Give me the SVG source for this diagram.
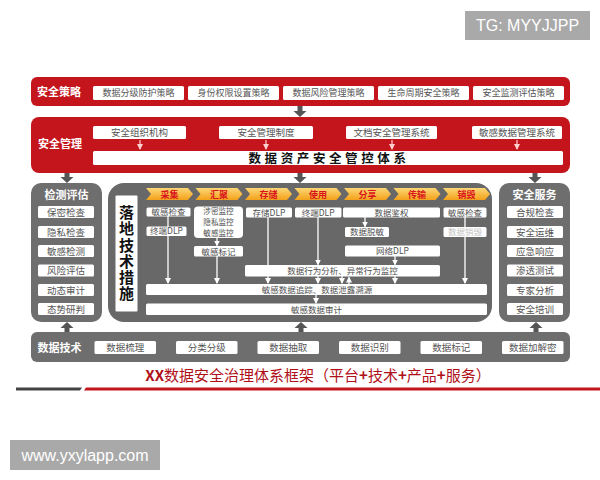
<svg xmlns="http://www.w3.org/2000/svg" width="600" height="480" viewBox="0 0 600 480">
<defs>
<style>
text{font-family:"Noto Sans CJK SC","Liberation Sans",sans-serif;}
.red{fill:#c5151c;}
.gray{fill:#6e6e6e;}
.wb{fill:#ffffff;}
.lbl{fill:#ffffff;font-weight:bold;font-size:11px;}
.t9{fill:#555555;font-size:9px;text-anchor:middle;}
.t10{fill:#555555;font-size:9.5px;text-anchor:middle;}
.t85{fill:#505050;font-size:8.5px;text-anchor:middle;}
.stage{fill:#d9141c;font-size:9px;font-weight:bold;text-anchor:middle;}
.wl{stroke:#ffffff;stroke-width:1.3;fill:none;}
.wla{stroke:#ffffff;stroke-width:1.3;fill:none;marker-end:url(#wa);}
.ba{fill:#555555;}
.pa{stroke:#ffd0d0;stroke-width:1.2;fill:none;marker-end:url(#pa);}
</style>
<marker id="wa" markerWidth="6" markerHeight="6" refX="5" refY="3" orient="auto" markerUnits="userSpaceOnUse"><path d="M0,0 L6,3 L0,6 Z" fill="#ffffff"/></marker>
<marker id="pa" markerWidth="6" markerHeight="6" refX="5" refY="3" orient="auto" markerUnits="userSpaceOnUse"><path d="M0,0 L6,3 L0,6 Z" fill="#ffd0d0"/></marker>
<linearGradient id="og" x1="0" y1="0" x2="0" y2="1"><stop offset="0" stop-color="#fcd777"/><stop offset="1" stop-color="#f4a119"/></linearGradient>
</defs>
<rect width="600" height="480" fill="#ffffff"/>

<!-- watermarks -->
<g id="wm-top"><rect x="465" y="11" width="125" height="29" fill="#a9a9a9"/><text x="527.5" y="31" style="fill:#fff;font-family:'Liberation Sans',sans-serif;font-size:16px;text-anchor:middle">TG: MYYJJPP</text></g>
<g id="wm-bottom"><rect x="10" y="440" width="150" height="30" fill="#a9a9a9"/><text x="85" y="461" style="fill:#fff;font-family:'Liberation Sans',sans-serif;font-size:16px;text-anchor:middle">www.yxylapp.com</text></g>

<!-- connectors -->
<g id="connectors">
<path class="ba" d="M297.5,106 h5 v5 h4 l-6.5,6 l-6.5,-6 h4 z"/>
<path class="ba" d="M64.5,173 h5 v4 h4 l-6.5,6 l-6.5,-6 h4 z"/>
<path class="ba" d="M297.5,173 h5 v4 h4 l-6.5,6 l-6.5,-6 h4 z"/>
<path class="ba" d="M532.5,173 h5 v4 h4 l-6.5,6 l-6.5,-6 h4 z"/>
<path class="ba" d="M64.5,332 h5 v-4 h4 l-6.5,-6 l-6.5,6 h4 z"/>
<path class="ba" d="M298.5,332 h5 v-4 h4 l-6.5,-6 l-6.5,6 h4 z"/>
<path class="ba" d="M533.5,332 h5 v-4 h4 l-6.5,-6 l-6.5,6 h4 z"/>
</g>

<!-- 安全策略 -->
<g id="policy">
<rect class="red" x="31" y="77" width="539" height="29" rx="6"/>
<text class="lbl" x="59" y="96" text-anchor="middle">安全策略</text>
<rect class="wb" x="93" y="86" width="91" height="14" rx="1.5"/><text class="t9" x="138.5" y="96.3">数据分级防护策略</text>
<rect class="wb" x="188" y="86" width="91" height="14" rx="1.5"/><text class="t9" x="233.5" y="96.3">身份权限设置策略</text>
<rect class="wb" x="283" y="86" width="91" height="14" rx="1.5"/><text class="t9" x="328.5" y="96.3">数据风险管理策略</text>
<rect class="wb" x="378" y="86" width="91" height="14" rx="1.5"/><text class="t9" x="423.5" y="96.3">生命周期安全策略</text>
<rect class="wb" x="473" y="86" width="91" height="14" rx="1.5"/><text class="t9" x="518.5" y="96.3">安全监测评估策略</text>
</g>

<!-- 安全管理 -->
<g id="management">
<rect class="red" x="31" y="117" width="539" height="56" rx="8"/>
<text class="lbl" x="60" y="148" text-anchor="middle">安全管理</text>
<rect class="wb" x="93" y="126" width="93" height="13" rx="1.5"/><text class="t10" x="139.5" y="136">安全组织机构</text>
<rect class="wb" x="219" y="126" width="94" height="13" rx="1.5"/><text class="t10" x="266" y="136">安全管理制度</text>
<rect class="wb" x="346" y="126" width="91" height="13" rx="1.5"/><text class="t10" x="391.5" y="136">文档安全管理系统</text>
<rect class="wb" x="472" y="126" width="90" height="13" rx="1.5"/><text class="t10" x="517" y="136">敏感数据管理系统</text>
<path class="pa" d="M140,140 V149"/>
<path class="pa" d="M266,140 V149"/>
<path class="pa" d="M392,140 V149"/>
<path class="pa" d="M517,140 V149"/>
<rect class="wb" x="93" y="151" width="470" height="14" rx="1.5"/>
<text x="329" y="162.5" style="fill:#111;font-size:12.5px;font-weight:bold;text-anchor:middle;letter-spacing:3.6px">数据资产安全管控体系</text>
</g>

<!-- 检测评估 -->
<g id="detect">
<rect class="gray" x="31" y="183" width="71" height="139" rx="10"/>
<text class="lbl" x="66.5" y="199" text-anchor="middle">检测评估</text>
<rect class="wb" x="38" y="206" width="56" height="12" rx="1.5"/><text class="t10" x="66" y="215.5">保密检查</text>
<rect class="wb" x="38" y="226" width="56" height="12" rx="1.5"/><text class="t10" x="66" y="235.5">隐私检查</text>
<rect class="wb" x="38" y="245" width="56" height="12" rx="1.5"/><text class="t10" x="66" y="254.5">敏感检测</text>
<rect class="wb" x="38" y="264.5" width="56" height="12" rx="1.5"/><text class="t10" x="66" y="274">风险评估</text>
<rect class="wb" x="38" y="284" width="56" height="12" rx="1.5"/><text class="t10" x="66" y="293.5">动态审计</text>
<rect class="wb" x="38" y="303" width="56" height="12" rx="1.5"/><text class="t10" x="66" y="312.5">态势研判</text>
</g>

<!-- 安全服务 -->
<g id="service">
<rect class="gray" x="499" y="183" width="71" height="139" rx="10"/>
<text class="lbl" x="534.5" y="199" text-anchor="middle">安全服务</text>
<rect class="wb" x="507" y="206" width="56" height="12" rx="1.5"/><text class="t10" x="535" y="215.5">合规检查</text>
<rect class="wb" x="507" y="226" width="56" height="12" rx="1.5"/><text class="t10" x="535" y="235.5">安全运维</text>
<rect class="wb" x="507" y="245" width="56" height="12" rx="1.5"/><text class="t10" x="535" y="254.5">应急响应</text>
<rect class="wb" x="507" y="264.5" width="56" height="12" rx="1.5"/><text class="t10" x="535" y="274">渗透测试</text>
<rect class="wb" x="507" y="284" width="56" height="12" rx="1.5"/><text class="t10" x="535" y="293.5">专家分析</text>
<rect class="wb" x="507" y="303" width="56" height="12" rx="1.5"/><text class="t10" x="535" y="312.5">安全培训</text>
</g>

<!-- 落地技术措施 -->
<g id="tech">
<rect x="108" y="183" width="384" height="139" rx="16" fill="#686868"/>
<rect class="wb" x="115.5" y="195.5" width="22" height="116" rx="1"/>
<text x="126.5" y="205" writing-mode="tb" style="fill:#111;font-size:15px;font-weight:bold;letter-spacing:1.2px">落地技术措施</text>
<!-- stages -->
<g id="stages">
<path fill="url(#og)" d="M146,188 h42 l5,6 l-5,6 h-42 l5,-6 z"/><text class="stage" x="169.5" y="197.5">采集</text>
<path fill="url(#og)" d="M195.5,188 h42 l5,6 l-5,6 h-42 l5,-6 z"/><text class="stage" x="219" y="197.5">汇聚</text>
<path fill="url(#og)" d="M245,188 h42 l5,6 l-5,6 h-42 l5,-6 z"/><text class="stage" x="268.5" y="197.5">存储</text>
<path fill="url(#og)" d="M294.5,188 h42 l5,6 l-5,6 h-42 l5,-6 z"/><text class="stage" x="318" y="197.5">使用</text>
<path fill="url(#og)" d="M344,188 h42 l5,6 l-5,6 h-42 l5,-6 z"/><text class="stage" x="367.5" y="197.5">分享</text>
<path fill="url(#og)" d="M393.5,188 h42 l5,6 l-5,6 h-42 l5,-6 z"/><text class="stage" x="417" y="197.5">传输</text>
<path fill="url(#og)" d="M443,188 h42 l5,6 l-5,6 h-42 l5,-6 z"/><text class="stage" x="466.5" y="197.5">销毁</text>
</g>
<!-- internal flow lines -->
<g id="tech-lines">
<path class="wla" d="M168,216 V283"/>
<path class="wla" d="M217,238 V245.5"/>
<path class="wla" d="M217,256 V283"/>
<path class="wla" d="M268,217 V283"/>
<path class="wla" d="M318,217 V264.5"/>
<path class="wla" d="M318,276 V283"/>
<path class="wla" d="M342,276 V283"/>
<path class="wla" d="M349,284 V277.5"/>
<path class="wla" d="M365,217 V226.5"/>
<path class="wla" d="M395,256 V264.5"/>
<path class="wla" d="M395,276 V283"/>
<path class="wla" d="M465,217 V283"/>
<path class="wla" d="M316,295 V303"/>
</g>
<g id="tech-boxes">
<rect class="wb" x="146.5" y="207.5" width="44" height="9" rx="1.5"/><text class="t85" x="168.5" y="215">敏感检查</text>
<rect class="wb" x="146.5" y="226.5" width="40" height="9.5" rx="1.5"/><text class="t85" x="166.5" y="234.3">终端DLP</text>
<rect class="wb" x="194" y="206.5" width="49" height="31.5" rx="4"/>
<text class="t85" x="218.5" y="214" style="font-size:7.6px">涉密监控<tspan x="218.5" dy="11">隐私监控</tspan><tspan x="218.5" dy="11">敏感监控</tspan></text>
<rect class="wb" x="194" y="246" width="49" height="10.5" rx="1.5"/><text class="t85" x="218.5" y="254.5">敏感标记</text>
<rect class="wb" x="246" y="207.5" width="46" height="10" rx="1.5"/><text class="t85" x="269" y="215.6">存储DLP</text>
<rect class="wb" x="295" y="207.5" width="46.5" height="10" rx="1.5"/><text class="t85" x="318.2" y="215.6">终端DLP</text>
<rect class="wb" x="343" y="207.5" width="97" height="10" rx="1.5"/><text class="t85" x="391.5" y="215.6">数据鉴权</text>
<rect class="wb" x="345" y="227" width="44" height="10" rx="1.5"/><text class="t85" x="367" y="235.1">数据脱敏</text>
<rect class="wb" x="345" y="245.5" width="95" height="11" rx="1.5"/><text class="t85" x="392.5" y="254.2">网络DLP</text>
<rect class="wb" x="443.5" y="207.5" width="43" height="10" rx="1.5"/><text class="t85" x="465" y="215.6">敏感检查</text>
<rect class="wb" x="443.5" y="227" width="43" height="10" rx="1.5"/><text class="t85" x="465" y="235.1" style="fill:#c4c4c4">数据销毁</text>
<rect class="wb" x="245" y="265" width="195" height="11.5" rx="1.5"/><text class="t85" x="342.5" y="274">数据行为分析、异常行为监控</text>
<rect class="wb" x="146" y="284" width="341" height="11" rx="1.5"/><text class="t85" x="317" y="292.7">敏感数据追踪、数据泄露溯源</text>
<rect class="wb" x="146" y="303.5" width="341" height="11.5" rx="1.5"/><text class="t85" x="316.5" y="312.5">敏感数据审计</text>
</g>
</g>

<!-- 数据技术 -->
<g id="datatech">
<rect class="gray" x="31" y="332" width="539" height="30" rx="6"/>
<text class="lbl" x="59.5" y="351.5" text-anchor="middle">数据技术</text>
<rect class="wb" x="94.5" y="341" width="61.5" height="13" rx="1.5"/><text class="t10" x="125.2" y="351">数据梳理</text>
<rect class="wb" x="176" y="341" width="61.5" height="13" rx="1.5"/><text class="t10" x="206.7" y="351">分类分级</text>
<rect class="wb" x="257.5" y="341" width="61.5" height="13" rx="1.5"/><text class="t10" x="288.2" y="351">数据抽取</text>
<rect class="wb" x="339" y="341" width="61.5" height="13" rx="1.5"/><text class="t10" x="369.7" y="351">数据识别</text>
<rect class="wb" x="420.5" y="341" width="61.5" height="13" rx="1.5"/><text class="t10" x="451.2" y="351">数据标记</text>
<rect class="wb" x="502" y="341" width="61.5" height="13" rx="1.5"/><text class="t10" x="532.7" y="351">数据加解密</text>
</g>

<!-- title -->
<g id="title">
<text x="318" y="381" style="fill:#b0101a;font-size:15px;text-anchor:middle"><tspan font-weight="bold">XX</tspan>数据安全治理体系框架（平台<tspan font-weight="bold">+</tspan>技术<tspan font-weight="bold">+</tspan>产品<tspan font-weight="bold">+</tspan>服务）</text>
<path d="M16,387.5 H82 L80,390.5 H16 Z" fill="#444"/>
<path d="M86,387.5 H600 V390.5 H84 Z" fill="#c5151c"/>
</g>
</svg>
